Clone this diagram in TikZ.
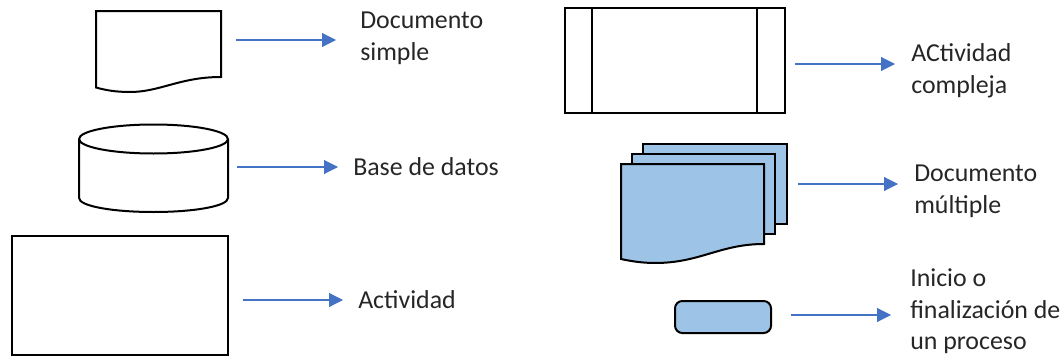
\documentclass[tikz,border=0pt]{standalone}
\usepackage{fontspec}
\setmainfont{Carlito}
\usetikzlibrary{arrows.meta}
\definecolor{arrowblue}{HTML}{4472C4}
\definecolor{shapeblue}{HTML}{9DC3E6}
\tikzset{
  shapeline/.style={draw=black,line width=1.5pt,line join=miter},
  bluefill/.style={shapeline,fill=shapeblue},
  whitefill/.style={shapeline,fill=white},
  linkarrow/.style={draw=arrowblue,line width=0.8pt,-{Triangle[length=10.5pt,width=10.5pt]}},
  lab/.style={font=\fontsize{19.4pt}{23.7pt}\selectfont,text=black!85,anchor=west,align=left,inner sep=0pt}
}
\begin{document}
\begin{tikzpicture}[x=0.75pt,y=-0.75pt]
\useasboundingbox (0,0) rectangle (1064,357);
% simple document
\draw[whitefill] (96,11) -- (221,11) -- (221,77) .. controls (180,77) and (160,92) .. (130,92) .. controls (115,92) and (105,90) .. (96,87.5) -- cycle;
% database
\draw[whitefill] (79,139) -- (79,198) .. controls (79,206) and (112,212) .. (153.5,212) .. controls (195,212) and (228,206) .. (228,198) -- (228,139) .. controls (228,131) and (195,124.5) .. (153.5,124.5) .. controls (112,124.5) and (79,131) .. (79,139) .. controls (79,147) and (112,153.5) .. (153.5,153.5) .. controls (195,153.5) and (228,147) .. (228,139);
% activity
\draw[whitefill] (12,236) rectangle (228,355);
% complex activity
\draw[whitefill] (565,8) rectangle (785,113);
\draw[shapeline] (592,8) -- (592,113) (757,8) -- (757,113);
% multiple document
\draw[bluefill] (643,144) rectangle (787,224);
\draw[bluefill] (632,154) rectangle (775,234);
\draw[bluefill] (621,164) -- (764,164) -- (764,244) .. controls (720,244) and (700,263) .. (655,263) .. controls (642,263) and (630,261) .. (621,259) -- cycle;
% terminator
\draw[bluefill,rounded corners=5.5pt] (675,301) rectangle (771,333);
% labels
\node[lab] (l1) at (360,38.5) {Documento\\simple};
\node[lab] (l2) at (353,167) {Base de datos};
\node[lab] (l3) at (358,300) {Actividad};
\node[lab] (l4) at (911,71) {ACtividad\\compleja};
\node[lab] (l5) at (914,191) {Documento\\múltiple};
\node[lab] (l6) at (910,311.5) {Inicio o\\finalización de\\un proceso};
% connectors
\coordinate (a1s) at (236,40); \coordinate (a1e) at (336,40);
\coordinate (a2s) at (237,167); \coordinate (a2e) at (338,167);
\coordinate (a3s) at (243,300); \coordinate (a3e) at (343,300);
\coordinate (a4s) at (795,64); \coordinate (a4e) at (895,64);
\coordinate (a5s) at (798,184); \coordinate (a5e) at (898,184);
\coordinate (a6s) at (791,315); \coordinate (a6e) at (891,315);
\draw[linkarrow] (a1s) -- (a1e);
\draw[linkarrow] (a2s) -- (a2e);
\draw[linkarrow] (a3s) -- (a3e);
\draw[linkarrow] (a4s) -- (a4e);
\draw[linkarrow] (a5s) -- (a5e);
\draw[linkarrow] (a6s) -- (a6e);
\end{tikzpicture}
\end{document}
